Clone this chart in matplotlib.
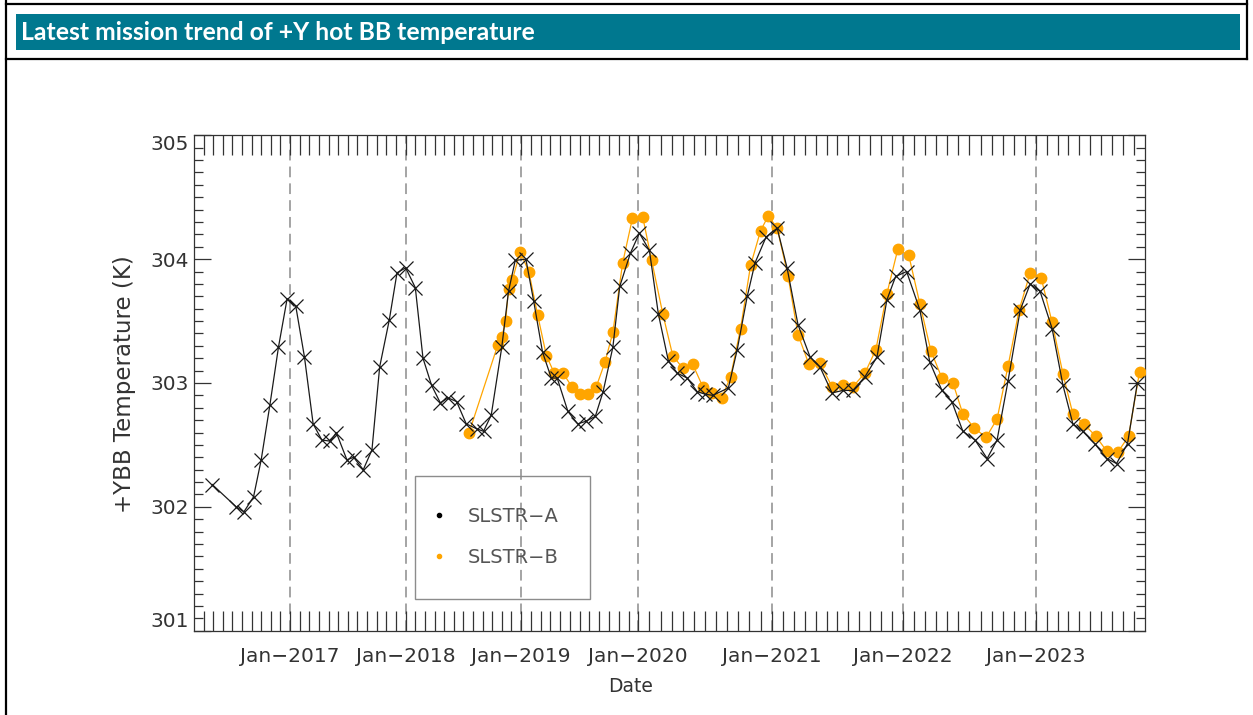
import numpy as np
import matplotlib
matplotlib.use("Agg")
import matplotlib.pyplot as plt
from matplotlib.lines import Line2D
from matplotlib.patches import Rectangle
from matplotlib.ticker import FixedLocator

# x = months since Jan 2016, y = +YBB temperature in K
a_month = [3.9, 6.4, 7.2, 8.2, 9.0, 9.9, 10.8, 11.7, 12.6, 13.5, 14.4, 15.3, 16.2, 16.8,
           17.9, 18.6, 19.6, 20.5, 21.3, 22.3, 23.1, 24.0, 25.0, 25.8, 26.7, 27.6, 28.4,
           29.3, 30.3, 31.4, 32.1, 32.9, 34.0, 34.7, 35.4, 36.5, 37.3, 38.2, 39.1, 39.7,
           40.8, 41.8, 42.6, 43.6, 44.4, 45.4, 46.1, 47.2, 48.1, 49.0, 49.8, 50.7, 51.5,
           52.4, 53.3, 54.0, 54.7, 56.1, 56.9, 57.8, 58.5, 59.5, 60.5, 61.4, 62.4, 63.5,
           64.4, 65.5, 66.5, 67.4, 68.5, 69.6, 70.5, 71.3, 72.3, 73.5, 74.4, 75.5, 76.4,
           77.4, 78.5, 79.6, 80.5, 81.5, 82.6, 83.5, 84.4, 85.5, 86.5, 87.4, 88.3, 89.4,
           90.5, 91.4, 92.4, 93.3]
a_temp = [302.18, 302.00, 301.96, 302.08, 302.38, 302.82, 303.29, 303.68, 303.62, 303.21,
          302.67, 302.54, 302.53, 302.60, 302.38, 302.40, 302.30, 302.46, 303.13, 303.51,
          303.89, 303.93, 303.77, 303.20, 302.98, 302.84, 302.88, 302.85, 302.67, 302.63,
          302.61, 302.74, 303.29, 303.74, 303.99, 304.00, 303.66, 303.25, 303.04, 303.04,
          302.77, 302.67, 302.69, 302.73, 302.93, 303.29, 303.78, 304.05, 304.21, 304.07,
          303.56, 303.18, 303.08, 303.04, 302.93, 302.91, 302.90, 302.96, 303.27, 303.70,
          303.97, 304.18, 304.25, 303.93, 303.47, 303.21, 303.13, 302.92, 302.94, 302.94,
          303.05, 303.21, 303.67, 303.86, 303.90, 303.59, 303.17, 302.94, 302.85, 302.61,
          302.54, 302.39, 302.54, 303.02, 303.59, 303.80, 303.74, 303.44, 302.98, 302.67,
          302.61, 302.51, 302.39, 302.35, 302.51, 303.00]

b_month = [30.6, 33.6, 34.0, 34.4, 34.7, 35.1, 35.9, 36.8, 37.7, 38.6, 39.4, 40.3, 41.2,
           42.0, 42.9, 43.7, 44.6, 45.4, 46.4, 47.4, 48.4, 49.2, 50.2, 51.1, 52.0, 52.9,
           53.8, 54.6, 55.5, 56.3, 57.2, 58.1, 59.0, 59.7, 60.5, 61.5, 62.4, 63.4, 64.4,
           65.5, 66.5, 67.4, 68.5, 69.5, 70.5, 71.5, 72.5, 73.5, 74.5, 75.5, 76.5, 77.4,
           78.4, 79.5, 80.5, 81.5, 82.5, 83.5, 84.5, 85.5, 86.5, 87.4, 88.4, 89.5, 90.5,
           91.5, 92.5, 93.5]
b_temp = [302.60, 303.31, 303.37, 303.50, 303.76, 303.83, 304.06, 303.90, 303.55, 303.22,
          303.08, 303.08, 302.97, 302.91, 302.91, 302.97, 303.17, 303.41, 303.97, 304.33,
          304.34, 303.99, 303.56, 303.22, 303.12, 303.15, 302.97, 302.92, 302.88, 303.05,
          303.44, 303.95, 304.23, 304.35, 304.25, 303.86, 303.39, 303.15, 303.16, 302.97,
          302.98, 302.97, 303.08, 303.27, 303.72, 304.08, 304.03, 303.64, 303.26, 303.04,
          303.00, 302.75, 302.64, 302.56, 302.71, 303.14, 303.59, 303.89, 303.85, 303.49,
          303.07, 302.75, 302.67, 302.57, 302.45, 302.44, 302.57, 303.09]

year_month = [12, 24, 36, 48, 60, 72, 84]
year_labels = ["Jan\u22122017", "Jan\u22122018", "Jan\u22122019", "Jan\u22122020",
               "Jan\u22122021", "Jan\u22122022", "Jan\u22122023"]

# the original time axis is not linear (months get wider from 2020 on),
# so map months -> position piecewise
scale_month = [-1000, 2, 12, 24, 36, 48, 60, 72, 84, 94, 1000]
scale_pos = [194 - 1002 * 9.6, 194, 290, 405.7, 521, 638.3, 771.7, 903.3, 1035.7, 1145,
             1145 + 906 * 11]


def fwd(m):
    return np.interp(m, scale_month, scale_pos)


def inv(p):
    return np.interp(p, scale_pos, scale_month)


W, H = 1253, 715
fig = plt.figure(figsize=(W / 100, H / 100), dpi=100)

# page frame + header bar
for xs, ys in [([6, 6], [0, H]), ([1247, 1247], [0, 59]), ([6, 1247], [4, 4]), ([6, 1247], [59, 59])]:
    fig.add_artist(Line2D([x / W for x in xs], [1 - y / H for y in ys], color="black",
                          lw=1.6, transform=fig.transFigure))
fig.add_artist(Rectangle((16 / W, 1 - 50 / H), (1240 - 16) / W, 36 / H, color="#00788f",
                         transform=fig.transFigure, lw=0))
fig.text(21 / W, 1 - 32 / H, "Latest mission trend of +Y hot BB temperature", color="white",
         fontsize=17.8, fontweight="bold", family="Lato", va="center", ha="left")

ax = fig.add_axes([194 / W, 1 - 630.7 / H, 951 / W, 495.4 / H])
ax.set_xscale("function", functions=(fwd, inv))
ax.set_xlim(2, 94)
ax.set_ylim(301, 305)

tick_font = dict(family="DejaVu Sans", size=14.5, color="#333333")

for m in year_month:
    ax.axvline(m, color="#8c8c8c", lw=1.1, dashes=(7, 4), zorder=1)

ax.plot(b_month, b_temp, color="#ffa500", lw=0.9, marker="o", ms=7.5, mec="#ffa500",
        zorder=3)
ax.plot(a_month, a_temp, color="#1a1a1a", lw=0.9, marker="x", ms=10.5, mew=0.9, zorder=4)

ax.xaxis.set_major_locator(FixedLocator(year_month))
ax.xaxis.set_minor_locator(FixedLocator(np.arange(3, 94)))
ax.set_xticklabels(year_labels, fontdict=tick_font)
ax.yaxis.set_major_locator(FixedLocator([301, 302, 303, 304, 305]))
ax.yaxis.set_minor_locator(FixedLocator(np.arange(301, 305.01, 0.1)))
ax.set_yticklabels(["301", "302", "303", "304", "305"], fontdict=tick_font)
ax.yaxis.get_majorticklabels()[0].set_va("bottom")
ax.yaxis.get_majorticklabels()[-1].set_va("top")

ax.tick_params(which="both", direction="in", top=True, right=True, color="#333333", width=0.9)
ax.tick_params(axis="x", which="both", length=14.5, pad=12)
ax.tick_params(axis="y", which="major", length=12, pad=4)
ax.tick_params(axis="y", which="minor", length=6.5)
for s in ax.spines.values():
    s.set_color("#333333")
    s.set_linewidth(0.9)

fig.text(631 / W, 1 - 686 / H, "Date", ha="center", va="center",
         family="DejaVu Sans", size=13.5, color="#333333")
fig.text(125 / W, 1 - 384 / H, "+YBB Temperature (K)", ha="center", va="center",
         rotation=90, family="DejaVu Sans", size=16.5, color="#333333")

# legend box
fig.add_artist(Rectangle((415 / W, 1 - 599.3 / H), 175 / W, 123.6 / H, fill=False,
                         ec="#8c8c8c", lw=1, transform=fig.transFigure))
handles = [Line2D([], [], ls="none", marker="o", ms=3, color="black"),
           Line2D([], [], ls="none", marker="o", ms=3, color="#ffa500")]
fig.legend(handles, ["SLSTR\u2212A", "SLSTR\u2212B"], loc="upper left",
           bbox_to_anchor=(420 / W, 1 - 497 / H), frameon=False, borderpad=0,
           handlelength=1, handletextpad=0.95, labelspacing=1.15,
           prop=dict(family="DejaVu Sans", size=14), labelcolor="#555555")

fig.savefig("out.png", dpi=100)
